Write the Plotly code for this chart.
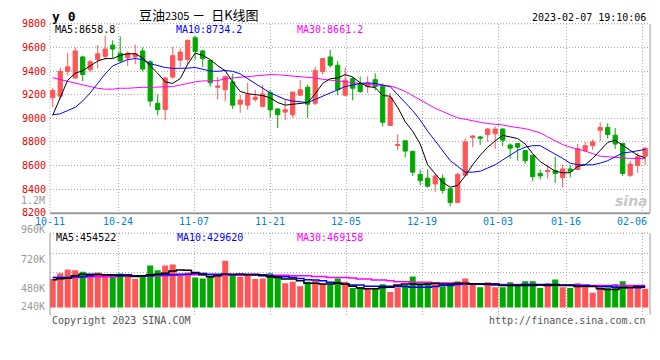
import plotly.graph_objects as go

# ---------------- data ----------------
dates = ["10-11","10-12","10-13","10-14","10-17","10-18","10-19","10-20","10-21","10-24",
         "10-25","10-26","10-27","10-28","10-31","11-01","11-02","11-03","11-04","11-07",
         "11-08","11-09","11-10","11-11","11-14","11-15","11-16","11-17","11-18","11-21",
         "11-22","11-23","11-24","11-25","11-28","11-29","11-30","12-01","12-02","12-05",
         "12-06","12-07","12-08","12-09","12-12","12-13","12-14","12-15","12-16","12-19",
         "12-20","12-21","12-22","12-23","12-26","12-27","12-28","12-29","12-30","01-03",
         "01-04","01-05","01-06","01-09","01-10","01-11","01-12","01-13","01-16","01-17",
         "01-18","01-19","01-20","01-30","01-31","02-01","02-02","02-03","02-06","02-07"]

open_ = [9173,9187,9397,9341,9519,9411,9497,9524,9619,9551,9511,9519,9570,9478,9127,9073,9349,9492,9497,9681,
         9570,9489,9262,9241,9308,9119,9111,9160,9100,9219,9079,9052,9030,9195,9262,9127,9395,9519,9449,9195,
         9335,9295,9268,9327,9268,8939,8770,8809,8720,8525,8493,8444,8493,8404,8288,8517,8836,8842,8863,8868,
         8909,8774,8787,8728,8687,8533,8547,8558,8498,8571,8566,8728,8768,8898,8922,8857,8787,8517,8601,8679]
high = [9254,9430,9551,9600,9530,9492,9619,9700,9660,9692,9565,9624,9600,9490,9200,9349,9605,9592,9665,9700,
        9580,9495,9349,9360,9376,9200,9300,9241,9281,9241,9085,9160,9222,9322,9287,9435,9505,9578,9484,9430,
        9349,9354,9354,9381,9295,9214,8863,8815,8725,8566,8566,8525,8525,8410,8539,8830,8858,8850,8917,8930,
        8915,8787,8790,8730,8690,8566,8606,8674,8606,8606,8782,8800,8822,8966,8957,8917,8790,8639,8706,8755]
low = [9092,9165,9362,9335,9314,9389,9422,9497,9511,9484,9443,9457,9397,9100,9025,8984,9335,9435,9457,9497,
       9435,9268,9160,9141,9079,9046,9073,9141,9092,9003,8917,8984,9003,9187,9003,9111,9368,9430,9195,9187,
       9152,9214,9214,9235,8930,8939,8728,8668,8512,8431,8412,8377,8363,8255,8288,8512,8755,8774,8800,8741,
       8763,8660,8641,8614,8466,8480,8490,8452,8412,8498,8566,8714,8733,8809,8828,8741,8512,8503,8539,8606]
close = [9236,9397,9435,9570,9370,9478,9546,9586,9586,9484,9551,9546,9416,9146,9073,9341,9530,9560,9660,9565,
         9505,9300,9273,9354,9111,9154,9200,9179,9206,9071,9030,9073,9222,9241,9119,9403,9505,9449,9241,9322,
         9254,9227,9295,9268,8966,9173,8778,8722,8544,8471,8425,8512,8390,8288,8525,8800,8850,8831,8909,8909,
         8814,8747,8755,8641,8506,8512,8558,8533,8571,8552,8741,8768,8800,8922,8863,8782,8533,8612,8674,8747]

ma5 = [9025,9173,9322,9381,9403,9443,9484,9505,9505,9532,9546,9546,9511,9443,9381,9308,9295,9335,9457,9551,
       9532,9497,9445,9403,9308,9227,9208,9200,9192,9173,9133,9111,9119,9125,9133,9206,9295,9335,9341,9370,
       9349,9300,9268,9260,9192,9187,9092,8971,8890,8782,8606,8530,8458,8417,8431,8512,8606,8687,8755,8809,
       8855,8842,8828,8782,8701,8633,8593,8552,8539,8539,8593,8606,8660,8728,8795,8814,8768,8728,8687,8666]
ma10 = [9030,9038,9065,9092,9146,9214,9295,9376,9443,9470,9497,9505,9497,9462,9443,9430,9422,9422,9424,9430,
        9416,9400,9397,9405,9397,9376,9335,9295,9254,9214,9187,9160,9146,9141,9133,9160,9187,9214,9241,9268,
        9281,9295,9300,9295,9281,9268,9200,9133,9065,8984,8890,8809,8728,8641,8593,8544,8544,8552,8579,8606,
        8647,8687,8728,8755,8768,8768,8733,8701,8660,8620,8606,8606,8606,8620,8641,8674,8706,8714,8722,8736]
ma30 = [9343,9327,9314,9295,9281,9268,9254,9246,9246,9254,9254,9260,9262,9262,9262,9262,9268,9281,9295,9308,
        9316,9316,9318,9335,9341,9349,9357,9362,9370,9370,9368,9362,9357,9354,9349,9341,9330,9322,9314,9308,
        9300,9295,9290,9281,9276,9273,9254,9227,9192,9160,9125,9084,9057,9030,9003,8992,8976,8966,8955,8949,
        8944,8930,8922,8912,8895,8877,8842,8809,8777,8755,8741,8722,8701,8679,8674,8668,8660,8660,8660,8660]

volume = [607,731,814,794,766,676,745,697,662,725,676,607,676,897,794,897,918,711,745,642,
          621,676,676,1000,690,656,676,607,621,731,676,518,552,455,552,573,504,490,621,552,
          414,435,414,400,497,331,435,483,662,518,518,524,449,518,559,621,504,435,538,435,
          435,538,469,559,559,414,518,600,435,414,518,435,317,435,435,497,559,435,469,400]  # thousand lots
vma5 = [594,615,625,676,711,711,711,697,690,676,676,662,676,697,711,731,780,800,794,745,
        697,656,676,711,711,711,697,697,676,656,642,607,607,573,518,518,504,504,518,497,
        455,414,400,400,428,435,483,504,504,490,504,518,504,504,518,518,504,504,504,504,
        469,469,469,469,469,483,469,483,469,469,449,449,449,400,386,386,421,435,449,449]
vma10 = [642,642,642,656,656,676,697,697,697,697,697,676,676,676,697,697,697,711,711,731,
         725,711,711,711,697,711,711,711,697,676,662,656,642,621,593,587,573,538,524,504,
         483,483,455,455,455,455,455,449,435,435,435,449,469,469,490,504,504,504,490,483,
         483,483,483,490,490,490,490,490,483,483,469,469,455,449,455,435,435,421,421,435]
vma30 = [642,642,642,642,656,656,656,656,656,676,676,676,676,676,676,676,690,690,697,697,
         697,697,697,690,690,690,690,690,690,690,690,690,676,676,676,662,662,642,642,642,
         628,607,607,587,587,573,552,552,538,538,538,524,524,524,518,518,504,504,504,504,
         490,490,490,490,490,483,483,483,483,483,483,483,469,469,469,469,469,469,469,469]

grid_dates = ["10-11","10-24","11-07","11-21","12-05","12-19","01-03","01-16","02-06"]
price_ticks = [8200,8400,8600,8800,9000,9200,9400,9600,9800]
ma_labels = ["MA5:8658.8", "MA10:8734.2", "MA30:8661.2"]
vma_labels = ["MA5:454522", "MA10:429620", "MA30:469158"]
vol_axis_labels = ["960K", "720K", "480K", "240K"]

# ---------------- styling ----------------
W, H = 660, 360
RED, GREEN = "#ff5555", "#00a800"
GRID = "#aaaaaa"
MONO = "DejaVu Sans Mono"
X0, X1 = 50, 650
P_TOP, P_BOT = 18.3, 213.3
V_TOP, V_BOT = 234.3, 318.5

def px(x):
    return x / W

def py(y):
    return 1 - y / H

n = len(dates)
idx = list(range(n))
vol = [v * 1000 for v in volume]
vm5 = [v * 1000 for v in vma5]
vm10 = [v * 1000 for v in vma10]
vm30 = [v * 1000 for v in vma30]

xr = [-0.36, n - 0.36]
grid_idx = [dates.index(d) for d in grid_dates]
grid_pos = [xr[0] + i * n / (n - 1) for i in grid_idx]

fig = go.Figure()
fig.add_trace(go.Candlestick(
    x=idx, open=open_, high=high, low=low, close=close, text=dates,
    increasing=dict(line=dict(color=RED, width=1), fillcolor=RED),
    decreasing=dict(line=dict(color=GREEN, width=1), fillcolor=GREEN),
    whiskerwidth=0, showlegend=False, xaxis="x", yaxis="y"))
for arr, col in [(ma30, "#ff00ff"), (ma10, "#0000ff"), (ma5, "#000000")]:
    fig.add_trace(go.Scatter(x=idx, y=arr, mode="lines", line=dict(color=col, width=1),
                             showlegend=False, hoverinfo="skip", xaxis="x", yaxis="y"))

fig.add_trace(go.Bar(x=idx, y=vol, width=0.8,
                     marker=dict(color=[RED if c >= o else GREEN for o, c in zip(open_, close)], line=dict(width=0)),
                     showlegend=False, xaxis="x2", yaxis="y2"))
for arr, col in [(vm30, "#ff00ff"), (vm10, "#0000ff"), (vm5, "#000000")]:
    fig.add_trace(go.Scatter(x=idx, y=arr, mode="lines", line=dict(color=col, width=1.5, shape="hvh"),
                             showlegend=False, hoverinfo="skip", xaxis="x2", yaxis="y2"))

axis_common = dict(showline=False, zeroline=False, ticks="", gridcolor=GRID, griddash="1px,2px", gridwidth=1)
fig.update_layout(
    width=W, height=H, margin=dict(l=0, r=0, t=0, b=0), autosize=False,
    paper_bgcolor="white", plot_bgcolor="white", boxgap=0.2, bargap=0.2,
    xaxis=dict(domain=[px(X0), px(X1)], range=xr, tickmode="array", tickvals=grid_pos,
               showticklabels=False, showgrid=True, rangeslider=dict(visible=False), anchor="y", **axis_common),
    yaxis=dict(domain=[py(P_BOT), py(P_TOP)], range=[8200, 9800], tickmode="array", tickvals=price_ticks,
               ticktext=[str(t) for t in price_ticks], tickfont=dict(family=MONO, size=10, color="#ee0000"),
               ticklabelstandoff=3, showgrid=True, anchor="x", **axis_common),
    xaxis2=dict(domain=[px(X0), px(X1)], range=xr, tickmode="array", tickvals=grid_pos,
                showticklabels=False, showgrid=True, anchor="y2", **axis_common),
    yaxis2=dict(domain=[py(V_BOT), py(V_TOP)], range=[-155000, 1588000], tickmode="array",
                tickvals=[739000, 1153000], showticklabels=False, showgrid=True, anchor="x2", **axis_common),
    showlegend=False,
)

# panel borders
dotted = dict(color="#999999", width=1, dash="1px,2px")
solid = dict(color="#999999", width=1)
shapes = [
    dict(type="line", xref="paper", yref="paper", x0=px(X0), x1=px(X1), y0=py(P_TOP), y1=py(P_TOP), line=dotted),
    dict(type="line", xref="paper", yref="paper", x0=px(X0), x1=px(X0), y0=py(P_TOP), y1=py(P_BOT), line=dotted),
    dict(type="line", xref="paper", yref="paper", x0=px(X0), x1=px(X1), y0=py(P_BOT + 0.5), y1=py(P_BOT + 0.5),
         line=dict(color="#999999", width=2)),
    dict(type="line", xref="paper", yref="paper", x0=px(X1), x1=px(X1), y0=py(P_TOP), y1=py(P_BOT), line=solid),
    dict(type="line", xref="paper", yref="paper", x0=px(X0), x1=px(X1), y0=py(V_TOP), y1=py(V_TOP), line=dotted),
    dict(type="line", xref="paper", yref="paper", x0=px(X0), x1=px(X0), y0=py(V_TOP), y1=py(V_BOT), line=solid),
    dict(type="line", xref="paper", yref="paper", x0=px(X1), x1=px(X1), y0=py(V_TOP), y1=py(V_BOT), line=solid),
]
fig.update_layout(shapes=shapes)

ann = []
def text(x, y, s, color="#000", size=10, anchor="left", family=MONO):
    ann.append(dict(x=px(x), y=py(y), xref="paper", yref="paper", text=s, showarrow=False,
                    xanchor=anchor, yanchor="middle", font=dict(family=family, size=size, color=color)))

text(50, 11, "<b>y 0</b>", size=13)
text(137, 9, "豆油<span style='font-size:11px'>2305</span> －  日K线图", size=13, family="Noto Sans CJK SC")
text(648, 12, "2023-02-07 19:10:06", anchor="right")
for s, x, c in zip(ma_labels, [53, 174, 295], ["#000000", "#0000ff", "#ff00ff"]):
    text(x, 24, s, color=c)
for s, x, c in zip(vma_labels, [54, 175, 295], ["#000000", "#0000ff", "#ff00ff"]):
    text(x, 238.5, s, color=c)
text(47, 200.7, "1.2M", color="#999999", anchor="right")
for s, y in zip(vol_axis_labels, [230.3, 261, 291, 310.3]):
    text(47, y, s, color="#999999", anchor="right")
for d, g in zip(grid_dates, grid_pos):
    last = d == grid_dates[-1]
    ann.append(dict(x=(xr[1] - 0.2) if last else g, y=py(222), xref="x", yref="paper", text=d, showarrow=False,
                    xanchor="right" if last else "center", yanchor="middle",
                    font=dict(family=MONO, size=10, color="#0a7fd0")))
text(50, 324.5, "Copyright 2023 SINA.COM", color="#555555")
text(648, 324.5, "http://finance.sina.com.cn", color="#555555", anchor="right")
text(650, 201, "<b><i>sina</i></b>", color="#c8c8c8", size=14, anchor="right", family="DejaVu Sans")
fig.update_layout(annotations=ann)

fig.write_html("out.html", config={"displayModeBar": False},
               post_script="document.body.style.margin='0';document.body.style.padding='0';")
